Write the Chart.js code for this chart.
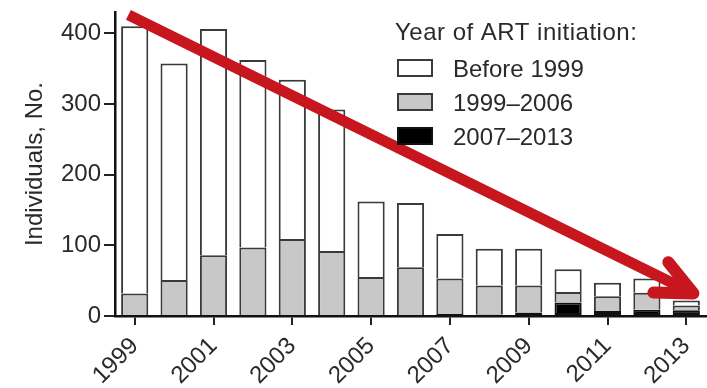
<!DOCTYPE html>
<html>
<head>
<meta charset="utf-8">
<script src="https://cdn.jsdelivr.net/npm/chart.js@4.4.1/dist/chart.umd.min.js"></script>
<style>
html,body{margin:0;padding:0;background:#fff;overflow:hidden}
#wrap{position:relative;width:707px;height:388px}
</style>
</head>
<body>
<div id="wrap"><canvas id="c" width="707" height="388"></canvas></div>
<script>
// ---- data ----
const years = ['1999','2000','2001','2002','2003','2004','2005','2006','2007','2008','2009','2010','2011','2012','2013'];
const before1999     = [378, 306, 320, 265, 225, 200, 107, 91, 63, 52, 52, 32, 19, 20, 7];
const from1999to2006 = [ 32,  51,  86,  97, 109,  92,  55, 69, 50, 41, 38, 15, 21, 24, 7];
const from2007to2013 = [  0,   0,   0,   0,   0,   0,   0,  0,  3,  2,  5, 19,  7,  9, 8];
const yTickValues = [0, 100, 200, 300, 400];
const seriesLabels = ['Before 1999', '1999–2006', '2007–2013'];
const legendTitle = 'Year of ART initiation:';
const yAxisTitle = 'Individuals, No.';
// trend arrow annotation in data space: [category index, value]
const arrowFrom = [-0.16, 426];
const arrowTo = [14.18, 32];

// ---- styles ----
const FONT = '"Liberation Sans", Arial, Helvetica, sans-serif';
const TEXT = '#2a2a2a';
const EDGE = '#3a3a3a';

const legendPlugin = {
  id: 'customLegend',
  afterDraw(chart) {
    const ctx = chart.ctx;
    ctx.save();
    ctx.font = '24px ' + FONT;
    ctx.fillStyle = TEXT;
    ctx.textBaseline = 'alphabetic';
    ctx.textAlign = 'left';
    try { ctx.letterSpacing = '0.5px'; } catch (e) {}
    ctx.fillText(legendTitle, 395, 40);
    try { ctx.letterSpacing = '0px'; } catch (e) {}
    const ds = chart.data.datasets.slice().reverse();
    ds.forEach((d, i) => {
      const top = 60 + i * 34;
      ctx.fillStyle = d.backgroundColor;
      ctx.fillRect(398, top, 34, 16);
      ctx.lineWidth = 2;
      ctx.strokeStyle = d.borderColor;
      ctx.strokeRect(398, top, 34, 16);
      ctx.fillStyle = TEXT;
      ctx.fillText(d.label, 453, top + 17);
    });
    ctx.restore();
  }
};

const arrowPlugin = {
  id: 'trendArrow',
  afterDatasetsDraw(chart) {
    const {ctx, scales: {x, y}} = chart;
    const x0 = x.getPixelForValue(arrowFrom[0]), y0 = y.getPixelForValue(arrowFrom[1]);
    const x1 = x.getPixelForValue(arrowTo[0]),   y1 = y.getPixelForValue(arrowTo[1]);
    const ang = Math.atan2(y0 - y1, x0 - x1);
    const spread = 25 * Math.PI / 180, armLen = 40;
    ctx.save();
    ctx.strokeStyle = '#c8161e';
    ctx.lineCap = 'butt';
    ctx.lineWidth = 11;
    ctx.beginPath();
    ctx.moveTo(x0, y0);
    ctx.lineTo(x1, y1);
    ctx.stroke();
    ctx.lineWidth = 12;
    ctx.lineCap = 'round';
    ctx.lineJoin = 'round';
    ctx.beginPath();
    ctx.moveTo(x1 + armLen * Math.cos(ang - spread), y1 + armLen * Math.sin(ang - spread));
    ctx.lineTo(x1, y1);
    ctx.lineTo(x1 + armLen * Math.cos(ang + spread), y1 + armLen * Math.sin(ang + spread));
    ctx.stroke();
    ctx.restore();
  }
};

const bw = ctx => (ctx.raw === 0 ? 0 : 2);
const noPad = s => { s.paddingTop = 0; s.paddingBottom = 0; s.paddingLeft = 0; s.paddingRight = 0; };

new Chart(document.getElementById('c'), {
  type: 'bar',
  data: {
    labels: years,
    datasets: [
      {label: seriesLabels[2], data: from2007to2013, backgroundColor: '#000000', borderColor: '#111111', borderWidth: bw, borderSkipped: false},
      {label: seriesLabels[1], data: from1999to2006, backgroundColor: '#c8c8c8', borderColor: EDGE, borderWidth: bw, borderSkipped: 'start'},
      {label: seriesLabels[0], data: before1999, backgroundColor: '#ffffff', borderColor: EDGE, borderWidth: bw, borderSkipped: 'start'}
    ]
  },
  options: {
    responsive: false,
    animation: false,
    devicePixelRatio: 1,
    layout: {padding: {top: 12, right: 1, left: 0, bottom: 0}},
    datasets: {bar: {categoryPercentage: 1, barPercentage: 0.69}},
    plugins: {legend: {display: false}, tooltip: {enabled: false}},
    scales: {
      x: {
        stacked: true,
        grid: {
          drawOnChartArea: false, drawTicks: true, tickLength: 9, offset: false, lineWidth: 2,
          color: c => (c.index % 2 === 0 ? '#222' : 'rgba(0,0,0,0)')
        },
        border: {display: true, color: '#111', width: 2.5},
        ticks: {
          autoSkip: false, maxRotation: 45, minRotation: 45, padding: 7,
          font: {family: FONT, size: 24}, color: TEXT,
          callback: function (v, i) { return i % 2 === 0 ? this.getLabelForValue(v) : ''; }
        },
        afterFit: s => { s.height = 72; noPad(s); }
      },
      y: {
        stacked: true,
        min: 0, max: 430,
        afterBuildTicks: s => { s.ticks = yTickValues.map(v => ({value: v})); },
        grid: {drawOnChartArea: false, drawTicks: true, tickLength: 11, color: '#222', lineWidth: 2},
        border: {display: true, color: '#111', width: 2.5},
        ticks: {font: {family: FONT, size: 24}, color: TEXT, padding: 3},
        title: {display: true, text: yAxisTitle, font: {family: FONT, size: 24}, color: TEXT, padding: {top: 21, bottom: 0}},
        afterFit: s => { s.width = 115; noPad(s); }
      }
    }
  },
  plugins: [arrowPlugin, legendPlugin]
});
</script>
</body>
</html>
